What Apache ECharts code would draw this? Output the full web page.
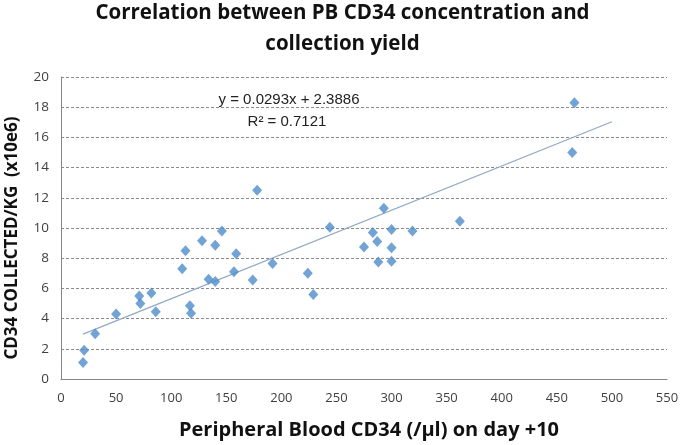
<!DOCTYPE html>
<html><head><meta charset="utf-8">
<script src="https://cdn.jsdelivr.net/npm/echarts@6/dist/echarts.min.js"></script>
<style>html,body{margin:0;padding:0;background:#fff}#c{width:685px;height:445px}</style>
</head><body><div id="c"></div>
<script>
const pbCD34 = [20,21,31,50,71,72,82,86,110,113,117,118,128,134,140,140,146,157,159,174,178,192,224,229,244,275,283,287,288,293,300,300,300,319,362,464,466];
const collected = [1.1,1.9,3.0,4.3,5.5,5.0,5.7,4.45,7.3,8.5,4.85,4.35,9.15,6.6,8.85,6.45,9.8,7.1,8.3,6.55,12.5,7.65,7.0,5.6,10.05,8.75,9.7,9.1,7.75,11.3,9.9,8.7,7.8,9.8,10.45,15.0,18.3];
const trendCoef = [0.0293, 2.3886]; // slope, intercept
const trendRange = [20, 500];
const xTicks = [0,50,100,150,200,250,300,350,400,450,500,550];
const yTicks = [0,2,4,6,8,10,12,14,16,18,20];

const pts = pbCD34.map((x,i)=>[x, collected[i]]);
const trend = trendRange.map(x=>[x, trendCoef[0]*x + trendCoef[1]]);

const chart = echarts.init(document.getElementById('c'));
chart.setOption({
  animation:false,
  title:{
    text:'Correlation between PB CD34 concentration and\ncollection yield',
    left:'center', top:-7,
    textStyle:{fontFamily:'Open Sans', fontWeight:'bold', fontSize:20.5, color:'#111', lineHeight:31}
  },
  grid:{left:61, right:18, top:77, bottom:60},
  xAxis:{
    type:'value', min:0, max:550, interval:50,
    name:'Peripheral Blood CD34 (/µl) on day +10',
    nameLocation:'middle', nameGap:41,
    nameTextStyle:{fontFamily:'Open Sans', fontWeight:'bold', fontSize:20, color:'#111', padding:[0,0,0,10]},
    axisLine:{show:true, lineStyle:{color:'#868686'}},
    axisTick:{show:false},
    splitLine:{show:false},
    axisLabel:{fontFamily:'Open Sans', fontSize:13, color:'#404040', margin:13}
  },
  yAxis:{
    type:'value', min:0, max:20, interval:2,
    axisLine:{show:true, lineStyle:{color:'#868686'}},
    axisTick:{show:false},
    splitLine:{show:true, lineStyle:{color:'#8a8a8a', type:[3,2], width:1}},
    axisLabel:{fontFamily:'Open Sans', fontSize:13.5, color:'#404040', margin:12}
  },
  graphic:[
    {type:'text', x:12, y:238, rotation:Math.PI/2, style:{text:'CD34 COLLECTED/KG  (x10e6)', align:'center', verticalAlign:'middle', font:'bold 17px "Open Sans"', fill:'#111'}},
    {type:'text', x:289, y:100, style:{text:'y = 0.0293x + 2.3886', align:'center', verticalAlign:'middle', font:'15px "Liberation Sans", Arial', fill:'#222'}},
    {type:'text', x:287, y:122, style:{text:'R² = 0.7121', align:'center', verticalAlign:'middle', font:'15px "Liberation Sans", Arial', fill:'#222'}}
  ],
  series:[
    {type:'line', data:trend, symbol:'none', lineStyle:{color:'#8fa9c6', width:1.2}, silent:true, z:1},
    {type:'scatter', data:pts, symbol:'diamond', symbolSize:[10,11], itemStyle:{color:'#4f8cca'}, z:2}
  ]
});
</script></body></html>
